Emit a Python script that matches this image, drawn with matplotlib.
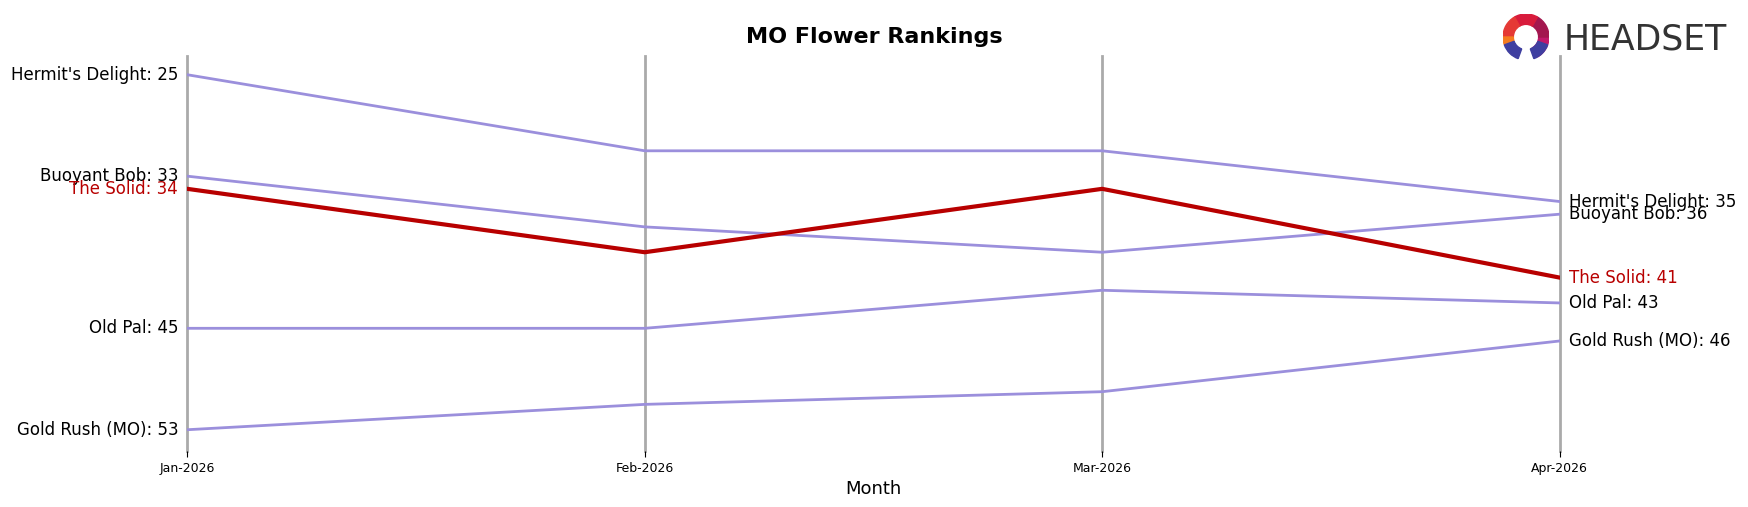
import numpy as np
import matplotlib.pyplot as plt
from matplotlib.patches import Wedge

months = ['Jan-2026', 'Feb-2026', 'Mar-2026', 'Apr-2026']
brands = ["Hermit's Delight", 'Buoyant Bob', 'Old Pal', 'Gold Rush (MO)']
ranks = [
    [25, 31, 31, 35],
    [33, 37, 39, 36],
    [45, 45, 42, 43],
    [53, 51, 50, 46],
]
solid_name = 'The Solid'
solid_ranks = [34, 39, 34, 41]

W, H = 1568, 455  # reference layout measured at this scale
fig = plt.figure(figsize=(17.48, 5.07), dpi=100)
ax = fig.add_axes([168 / W, 1 - 405 / H, (1399 - 168) / W, 355 / H])
x = np.arange(len(months))

for xi in x:
    ax.axvline(xi, color='#aaaaaa', lw=2, zorder=0, clip_on=False)

fs = 12
for name, r in zip(brands, ranks):
    ax.plot(x, r, color='#9b8fdc', lw=2)
    ax.text(-0.02, r[0], f'{name}: {r[0]}', ha='right', va='center', fontsize=fs)
    ax.text(x[-1] + 0.02, r[-1], f'{name}: {r[-1]}', ha='left', va='center', fontsize=fs)

ax.plot(x, solid_ranks, color='#b80000', lw=3)
ax.text(-0.02, solid_ranks[0], f'{solid_name}: {solid_ranks[0]}', ha='right', va='center',
        fontsize=fs, color='#b80000')
ax.text(x[-1] + 0.02, solid_ranks[-1], f'{solid_name}: {solid_ranks[-1]}', ha='left',
        va='center', fontsize=fs, color='#b80000')

ax.set_xlim(0, 3)
ax.set_ylim(54.7, 23.5)
ax.set_yticks([])
ax.set_xticks(x)
ax.set_xticklabels(months, fontsize=9)
ax.tick_params(axis='x', length=4)
for s in ax.spines.values():
    s.set_visible(False)
ax.set_xlabel('Month', fontsize=13)
fig.text(784 / W, 1 - 33 / H, 'MO Flower Rankings', ha='center', va='center',
         fontsize=16, fontweight='bold')

# logo
fig.text(1727 / 1748, 1 - 39 / 507, 'HEADSET', ha='right', va='center', fontsize=25,
         color='#333333')
lax = fig.add_axes([1502 / 1748, 1 - 60 / 507, 48 / 1748, 46 / 507])
lax.set_xlim(-1, 1)
lax.set_ylim(-1, 1)
lax.set_aspect('equal')
lax.axis('off')
for a0, a1, c in [(-60, 0, '#c2186b'), (0, 60, '#a3174f'), (60, 120, '#d81b3c'),
                  (120, 180, '#e53935'), (180, 200, '#f57c20')]:
    lax.add_patch(Wedge((0, 0), 1, a0, a1, width=0.45, color=c))
lax.add_patch(Wedge((0, 0), 1, 200, 250, width=0.45, color='#3f3fa0'))
lax.add_patch(Wedge((0, 0), 1, 290, 340, width=0.45, color='#3f3fa0'))
fig.savefig('out.png', dpi=100)
